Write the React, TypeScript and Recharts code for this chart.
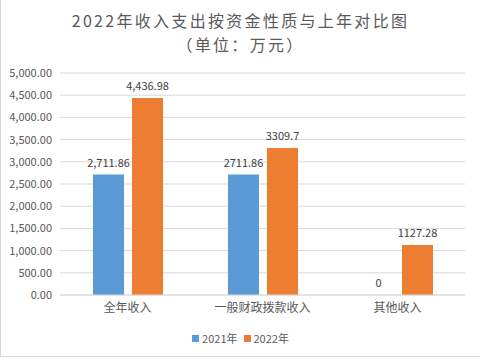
import { Bar, BarChart, CartesianGrid, LabelList, XAxis, YAxis } from 'recharts';

const categories = ['全年收入', '一般财政拨款收入', '其他收入'];
const values2021 = [2711.86, 2711.86, 0];
const values2022 = [4436.98, 3309.7, 1127.28];
const labels2021 = ['2,711.86', '2711.86', '0'];
const labels2022 = ['4,436.98', '3309.7', '1127.28'];
const yTicks = [0, 500, 1000, 1500, 2000, 2500, 3000, 3500, 4000, 4500, 5000];

const BLUE = '#5B9BD5';
const ORANGE = '#ED7D31';
const FONT = '"Noto Sans CJK SC", "Noto Sans", sans-serif';

const data = categories.map((name, i) => ({
  name,
  y2021: values2021[i],
  y2022: values2022[i],
  l2021: labels2021[i],
  l2022: labels2022[i],
}));

const fmtTick = (v: number) =>
  v.toLocaleString('en-US', { minimumFractionDigits: 2, maximumFractionDigits: 2 });

const App = () => {
  return (
    <div
      style={{
        position: 'absolute',
        left: 0,
        top: 0,
        width: 481,
        height: 358,
        background: '#fff',
        fontFamily: FONT,
      }}
    >
      <div
        style={{
          position: 'absolute',
          left: 0,
          top: 0,
          width: 480,
          height: 357,
          borderLeft: '1px solid #d9d9d9',
          borderBottom: '1px solid #d9d9d9',
          boxSizing: 'border-box',
        }}
      />
      <div
        style={{
          position: 'absolute',
          top: 8,
          left: 0,
          width: 481,
          textAlign: 'center',
          color: '#595959',
          fontSize: 16,
          letterSpacing: 2.3,
          lineHeight: '24px',
        }}
      >
        <div>2022年收入支出按资金性质与上年对比图</div>
        <div>（单位：万元）</div>
      </div>
      <BarChart
        width={481}
        height={358}
        data={data}
        margin={{ top: 73, right: 16, bottom: 33, left: 0 }}
        barGap={8}
        barCategoryGap={33}
      >
        <CartesianGrid vertical={false} stroke='#d9d9d9' />
        <XAxis
          dataKey='name'
          axisLine={{ stroke: '#d9d9d9' }}
          tickLine={false}
          tick={{ fill: '#595959', fontSize: 12, fontFamily: FONT }}
          height={30}
          interval={0}
        />
        <YAxis
          domain={[0, 5000]}
          ticks={yTicks}
          interval={0}
          width={60}
          axisLine={false}
          tickLine={false}
          tickFormatter={fmtTick}
          tick={{ fill: '#595959', fontSize: 11, fontFamily: FONT }}
        />
        <Bar dataKey='y2021' fill={BLUE} minPointSize={0.01} isAnimationActive={false}>
          <LabelList dataKey='l2021' position='top' offset={8} fill='#404040' fontSize={11} fontFamily={FONT} />
        </Bar>
        <Bar dataKey='y2022' fill={ORANGE} isAnimationActive={false}>
          <LabelList dataKey='l2022' position='top' offset={8} fill='#404040' fontSize={11} fontFamily={FONT} />
        </Bar>
      </BarChart>
      <div
        style={{
          position: 'absolute',
          top: 330,
          left: 0,
          width: 481,
          display: 'flex',
          justifyContent: 'center',
          alignItems: 'center',
          fontSize: 11,
          color: '#595959',
        }}
      >
        <span style={{ display: 'inline-block', width: 7, height: 7, background: BLUE, marginRight: 3 }} />
        <span style={{ marginRight: 6 }}>2021年</span>
        <span style={{ display: 'inline-block', width: 7, height: 7, background: ORANGE, marginRight: 3 }} />
        <span>2022年</span>
      </div>
    </div>
  );
};

export default App;
